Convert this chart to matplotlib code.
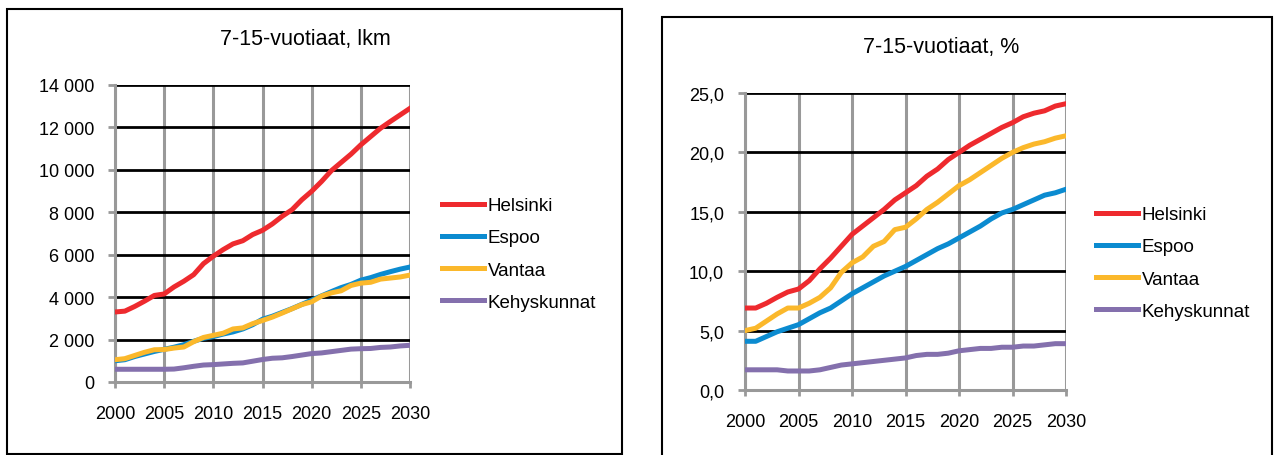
import matplotlib.pyplot as plt
from matplotlib.patches import Rectangle
from matplotlib.ticker import FuncFormatter

plt.rcParams['font.family'] = ['Liberation Sans', 'DejaVu Sans']

years = list(range(2000, 2031))
labels = ['Helsinki', 'Espoo', 'Vantaa', 'Kehyskunnat']
colors = ['#ee2a2e', '#0b8bd0', '#fbb82b', '#8470ad']

# 7-15-vuotiaat, lkm
hki_n = [3300, 3340, 3560, 3810, 4080, 4150, 4480, 4750, 5060, 5580, 5930,
         6240, 6510, 6660, 6950, 7150, 7450, 7810, 8120, 8590, 8990,
         9450, 9960, 10350, 10740, 11180, 11570, 11960, 12280, 12590, 12900]
esp_n = [1000, 1050, 1200, 1320, 1440, 1540, 1640, 1760, 1920, 2060, 2140,
         2260, 2360, 2500, 2700, 2960, 3100, 3280, 3460, 3660, 3860,
         4060, 4260, 4450, 4600, 4800, 4920, 5070, 5200, 5320, 5420]
van_n = [1050, 1100, 1250, 1400, 1520, 1530, 1600, 1650, 1900, 2100, 2200,
         2300, 2500, 2550, 2750, 2900, 3060, 3250, 3450, 3650, 3780,
         4050, 4200, 4300, 4550, 4660, 4700, 4850, 4900, 4950, 5040]
keh_n = [600, 600, 600, 600, 600, 600, 610, 670, 740, 800, 820,
         850, 880, 900, 980, 1060, 1120, 1140, 1200, 1270, 1340,
         1370, 1430, 1490, 1550, 1570, 1580, 1630, 1650, 1700, 1730]

# 7-15-vuotiaat, %
hki_p = [6.9, 6.9, 7.3, 7.8, 8.25, 8.5, 9.2, 10.2, 11.1, 12.1, 13.1,
         13.8, 14.5, 15.2, 16.0, 16.6, 17.2, 18.0, 18.6, 19.4, 20.0,
         20.6, 21.1, 21.6, 22.1, 22.5, 23.0, 23.3, 23.5, 23.9, 24.1]
esp_p = [4.1, 4.1, 4.5, 4.9, 5.2, 5.5, 6.0, 6.5, 6.9, 7.5, 8.1,
         8.6, 9.1, 9.6, 10.0, 10.4, 10.9, 11.4, 11.9, 12.3, 12.8,
         13.3, 13.8, 14.4, 14.9, 15.2, 15.6, 16.0, 16.4, 16.6, 16.9]
van_p = [5.0, 5.2, 5.8, 6.4, 6.9, 6.9, 7.3, 7.8, 8.6, 9.9, 10.7,
         11.2, 12.1, 12.5, 13.5, 13.7, 14.4, 15.2, 15.8, 16.5, 17.2,
         17.7, 18.3, 18.9, 19.5, 20.0, 20.4, 20.7, 20.9, 21.2, 21.4]
keh_p = [1.7, 1.7, 1.7, 1.7, 1.6, 1.6, 1.6, 1.7, 1.9, 2.1, 2.2,
         2.3, 2.4, 2.5, 2.6, 2.7, 2.9, 3.0, 3.0, 3.1, 3.3,
         3.4, 3.5, 3.5, 3.6, 3.6, 3.7, 3.7, 3.8, 3.9, 3.9]

W, H = 1276, 456
fig = plt.figure(figsize=(W / 100, H / 100), dpi=100)

# outer frames of the two excel charts
fig.patches.append(Rectangle((7 / W, 1 / H), 615 / W, 445 / H, transform=fig.transFigure,
                             fill=False, ec='black', lw=1.5))
fig.patches.append(Rectangle((662 / W, -5 / H), 610 / W, 443 / H, transform=fig.transFigure,
                             fill=False, ec='black', lw=1.5))


def setup(ax, series, ymax, ystep, fmt, title, tx, ty, leg_x, leg_y):
    for vals, lab, col in zip(series, labels, colors):
        ax.plot(years, vals, color=col, lw=3.6, label=lab, zorder=3)
    ax.set_xlim(2000, 2030)
    ax.set_ylim(0, ymax)
    ax.set_xticks(range(2000, 2031, 5))
    ax.set_yticks([ystep * i for i in range(int(round(ymax / ystep)) + 1)])
    ax.yaxis.set_major_formatter(FuncFormatter(fmt))
    ax.yaxis.grid(True, color='black', lw=2, zorder=1)
    ax.xaxis.grid(True, color='#999999', lw=2.2, zorder=2)
    ax.set_axisbelow(True)
    for s in ['top', 'right']:
        ax.spines[s].set_visible(False)
    for s in ['left', 'bottom']:
        ax.spines[s].set_color('#999999')
        ax.spines[s].set_linewidth(2.2)
    ax.tick_params(axis='y', length=5, width=2, color='#999999', pad=10, labelsize=13)
    ax.tick_params(axis='x', length=4.5, width=2, color='#999999', pad=12, labelsize=13)
    fig.text(tx / W, 1 - ty / H, title, ha='center', va='center', fontsize=15.5)
    ax.legend(loc='center left', bbox_to_anchor=(leg_x / W, 1 - leg_y / H),
              bbox_transform=fig.transFigure, frameon=False, fontsize=13.5,
              handlelength=2.25, handletextpad=0.2, labelspacing=0.8,
              borderpad=0, borderaxespad=0)


ax1 = fig.add_axes([115 / W, 73 / H, 295 / W, 297 / H])
setup(ax1, [hki_n, esp_n, van_n, keh_n], 14000, 2000,
      lambda v, p: f'{int(v):,}'.replace(',', ' '),
      '7-15-vuotiaat, lkm', 305, 40, 442, 255)

ax2 = fig.add_axes([745 / W, 65 / H, 321 / W, 297 / H])
setup(ax2, [hki_p, esp_p, van_p, keh_p], 25, 5,
      lambda v, p: f'{v:.1f}'.replace('.', ','),
      '7-15-vuotiaat, %', 941, 48, 1096, 264)

fig.savefig('out.png', dpi=100)
